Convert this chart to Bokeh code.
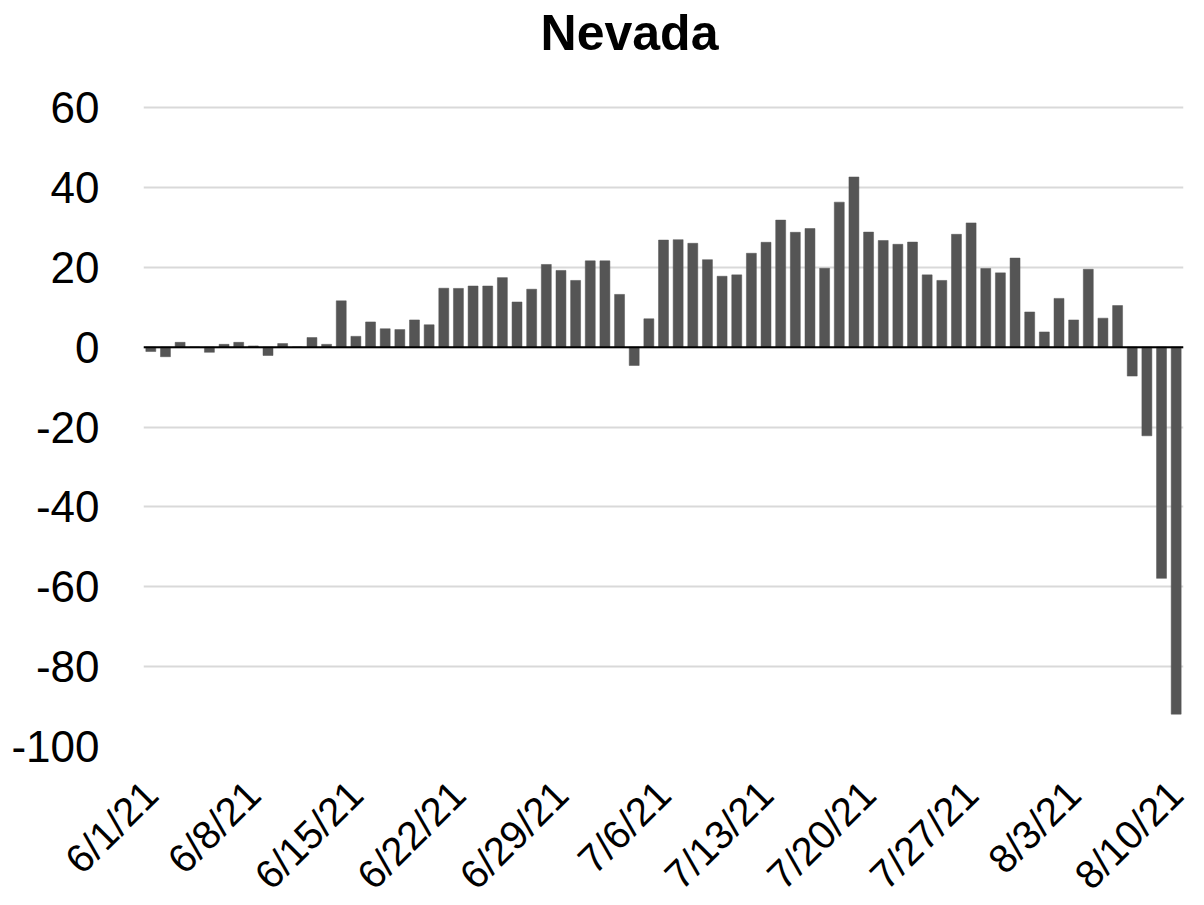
import math
from bokeh.plotting import figure
from bokeh.models import FixedTicker, Span, ColumnDataSource, Range1d, Label
from bokeh.embed import file_html
from bokeh.resources import INLINE

title_text = "Nevada"
day_index = list(range(71))
values = [
    -1.1, -2.4, 1.2, 0.0, -1.3, 0.7, 1.2, 0.3, -2.1, 0.9,
    0.0, 2.4, 0.7, 11.6, 2.7, 6.3, 4.6, 4.4, 6.8, 5.6,
    14.75, 14.7, 15.3, 15.3, 17.4, 11.3, 14.5, 20.7, 19.2, 16.7,
    21.6, 21.6, 13.2, -4.6, 7.1, 26.8, 26.9, 26.0, 21.9, 17.75,
    18.1, 23.5, 26.25, 31.8, 28.75, 29.7, 19.75, 36.3, 42.6, 28.8,
    26.7, 25.75, 26.3, 18.1, 16.7, 28.25, 31.1, 19.7, 18.6, 22.3,
    8.8, 3.8, 12.2, 6.8, 19.5, 7.25, 10.4, -7.25, -22.2, -57.9,
    -91.9,
]
tick_positions = [0, 7, 14, 21, 28, 35, 42, 49, 56, 63, 70]
tick_labels = ["6/1/21", "6/8/21", "6/15/21", "6/22/21", "6/29/21", "7/6/21",
               "7/13/21", "7/20/21", "7/27/21", "8/3/21", "8/10/21"]
y_ticks = [-100, -80, -60, -40, -20, 0, 20, 40, 60]
y_tick_labels = ["-100", "-80", "-60", "-40", "-20", "0", "20", "40", "60"]

FONT = "Liberation Sans"

# plot area 1040 x 639 px for the value range -100..60, plus 107 px of
# headroom above it (inside the frame) that holds the title
PLOT_H = 639
HEAD = 107
px_per_unit = PLOT_H / 160.0
y_top = 60 + HEAD / px_per_unit

src = ColumnDataSource(dict(x=day_index, top=values))

p = figure(frame_width=1040, frame_height=PLOT_H + HEAD, output_backend="svg",
           toolbar_location=None,
           x_range=Range1d(-0.5, 70.5), y_range=Range1d(-100, y_top),
           min_border_left=143, min_border_right=8, min_border_top=0,
           min_border_bottom=140)
p.outline_line_color = None
p.background_fill_color = "white"
p.border_fill_color = "white"

title_label = Label(x=486, y=PLOT_H + HEAD - 32, x_units="screen", y_units="screen",
                    text=title_text, text_align="center", text_baseline="alphabetic",
                    text_font=FONT, text_font_size="50px", text_font_style="bold",
                    text_color="black")
p.add_layout(title_label)

p.vbar(x="x", top="top", width=0.68, source=src, fill_color="#555555",
       line_color="#555555", line_width=0.5)

p.add_layout(Span(location=0, dimension="width", line_color="black", line_width=2))

p.xgrid.grid_line_color = None
p.ygrid.grid_line_color = "#d9d9d9"
p.ygrid.grid_line_width = 2

p.yaxis.ticker = FixedTicker(ticks=y_ticks)
p.yaxis.major_label_overrides = {t: l for t, l in zip(y_ticks, y_tick_labels)}
p.yaxis.axis_line_color = None
p.yaxis.major_tick_line_color = None
p.yaxis.minor_tick_line_color = None
p.yaxis.major_label_standoff = 38
p.yaxis.major_label_text_font = FONT
p.yaxis.major_label_text_font_size = "44px"
p.yaxis.major_label_text_color = "black"

p.xaxis.ticker = FixedTicker(ticks=tick_positions)
p.xaxis.major_label_overrides = {t: l for t, l in zip(tick_positions, tick_labels)}
p.xaxis.axis_line_color = None
p.xaxis.major_tick_line_color = None
p.xaxis.minor_tick_line_color = None
p.xaxis.major_label_orientation = math.pi / 4
p.xaxis.major_label_standoff = 35
p.xaxis.major_label_text_font = FONT
p.xaxis.major_label_text_font_size = "40px"
p.xaxis.major_label_text_color = "black"

open("out.html", "w").write(file_html(p, INLINE))
